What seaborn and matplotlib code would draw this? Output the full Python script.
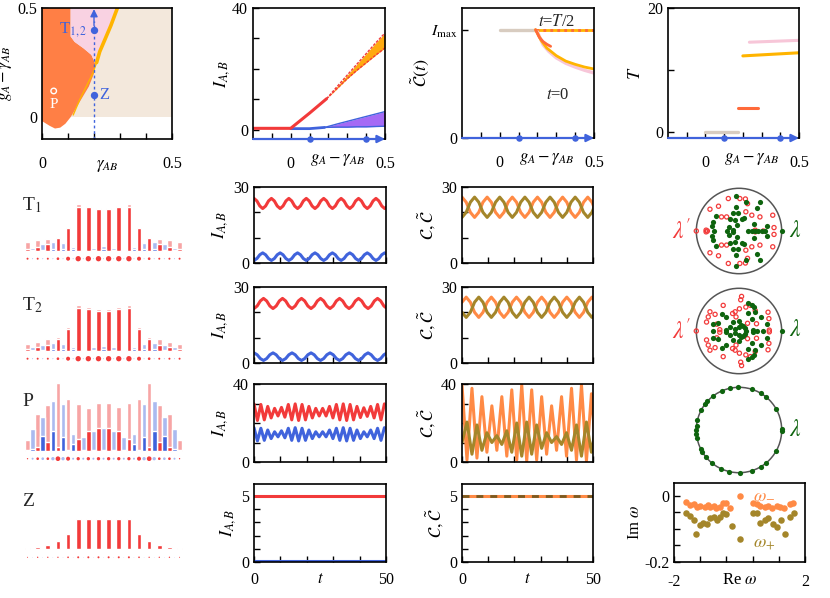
import numpy as np
import matplotlib
matplotlib.use("Agg")
import matplotlib.pyplot as plt
import seaborn as sns
from matplotlib.patches import Circle

# ======================= DATA =======================
# --- phase diagram (gamma_AB , g_A - gamma_AB)
orange_bx = [0.11, 0.11, 0.125, 0.16, 0.19, 0.205, 0.20, 0.18, 0.155, 0.13, 0.11, 0.09, 0.07, 0.05, 0.03, 0.0]
orange_by = [0.5, 0.37, 0.345, 0.315, 0.285, 0.245, 0.20, 0.14, 0.09, 0.04, 0.0, -0.03, -0.048, -0.052, -0.04, -0.018]
yellow_x = [0.29, 0.265, 0.24, 0.222, 0.21, 0.195, 0.17, 0.145, 0.12]
yellow_y = [0.5, 0.42, 0.35, 0.30, 0.25, 0.20, 0.14, 0.08, 0.01]
scan_gamma = 0.2
scan_g = [0.1, 0.4]
point_P = (0.045, 0.12)

# --- top row: intensities vs g_A - gamma_AB
IA_line_x = [-0.2, 0.0, 0.1, 0.19]
IA_line_y = [0.5, 0.5, 5.5, 10.2]
IA_band_x = [0.19, 0.25, 0.30, 0.35, 0.40, 0.45, 0.50]
IA_band_hi = [10.2, 14.5, 18.0, 21.5, 25.0, 28.5, 31.8]
IA_band_lo = [10.2, 13.8, 16.8, 19.5, 22.0, 24.5, 26.9]
IB_line_x = [0.0, 0.1, 0.18]
IB_line_y = [0.4, 0.4, 0.8]
IB_band_x = [0.18, 0.25, 0.30, 0.35, 0.40, 0.45, 0.50]
IB_band_hi = [0.8, 2.0, 2.8, 3.6, 4.4, 5.2, 6.0]
IB_band_lo = [0.8, 0.9, 0.9, 1.0, 1.0, 1.1, 1.2]

# --- top row: C~(t) (in units of I_max)
Cz_flat_x = [0.0, 0.19]
Cz_flat_y = [1.0, 1.0]
Chalf_x = [0.19, 0.5]
Chalf_y = [1.0, 1.0]
Cred_x = [0.19, 0.21, 0.23, 0.25, 0.27]
Cred_y = [1.0, 0.93, 0.89, 0.865, 0.846]
Cyel_x = [0.19, 0.22, 0.25, 0.30, 0.35, 0.40, 0.45, 0.50]
Cyel_y = [1.0, 0.90, 0.83, 0.76, 0.71, 0.68, 0.655, 0.637]
Cpink_x = [0.20, 0.23, 0.26, 0.30, 0.35, 0.40, 0.45, 0.50]
Cpink_y = [0.98, 0.86, 0.80, 0.74, 0.69, 0.655, 0.625, 0.60]

# --- top row: period T
T_beige_x = [0.0, 0.175]
T_beige_y = [0.1, 0.1]
T_red_x = [0.176, 0.279]
T_red_y = [3.9, 3.9]
T_yel_x = [0.20, 0.50]
T_yel_y = [12.3, 12.8]
T_pink_x = [0.235, 0.50]
T_pink_y = [14.5, 14.8]

# --- site-resolved bars (31 sites, A on even sites, B on odd)
T1_max = [27, 8, 33, 20, 34, 27, 40, 22, 70, 10, 141, 2, 135, 8, 129, 13, 129, 8, 135, 2, 141, 10, 70, 22, 40, 27, 34, 20, 33, 8, 27]
T1_min = [5, 2, 12, 2, 20, 5, 37, 5, 69, 6, 132, 1, 130, 3, 124, 4, 124, 3, 130, 1, 132, 6, 69, 5, 37, 5, 20, 2, 12, 2, 5]
T1_dot = [3, 1.5, 3, 1.5, 3, 1.5, 4, 1.5, 6, 1.5, 8, 1.5, 8, 1.5, 8, 1.5, 8, 1.5, 8, 1.5, 8, 1.5, 6, 1.5, 4, 1.5, 3, 1.5, 3, 1.5, 3]
T2_max = [20, 10, 25, 18, 35, 22, 42, 20, 72, 12, 138, 4, 132, 10, 126, 14, 126, 10, 132, 4, 138, 12, 72, 20, 42, 22, 35, 18, 25, 10, 20]
T2_min = [4, 2, 10, 3, 18, 5, 35, 5, 66, 6, 128, 1, 126, 3, 120, 4, 120, 3, 126, 1, 128, 6, 66, 5, 35, 5, 18, 3, 10, 2, 4]
T2_dot = [3, 1.5, 3, 1.5, 3, 1.5, 4, 1.5, 6, 1.5, 8, 1.5, 8, 1.5, 8, 1.5, 8, 1.5, 8, 1.5, 8, 1.5, 6, 1.5, 4, 1.5, 3, 1.5, 3, 1.5, 3]
P_max = [32, 64, 110, 101, 136, 149, 202, 140, 155, 50, 140, 42, 128, 60, 142, 68, 142, 60, 130, 42, 142, 50, 155, 140, 202, 149, 136, 101, 110, 64, 32]
P_min = [2, 4, 10, 44, 27, 59, 12, 41, 2, 20, 35, 2, 59, 2, 68, 2, 68, 2, 59, 2, 35, 20, 2, 41, 12, 59, 27, 44, 10, 4, 2]
P_dot = [2, 3, 4, 4, 4, 5, 7, 5, 6, 3, 5, 3, 5, 3, 5, 3, 5, 3, 5, 3, 5, 3, 6, 5, 7, 5, 4, 4, 4, 3, 2]
Z_max = [4, 1, 7, 1, 12, 1, 25, 1, 46, 1, 92, 1, 92, 1, 92, 1, 92, 1, 92, 1, 92, 1, 46, 1, 25, 1, 12, 1, 7, 1, 4]
Z_min = [4, 1, 7, 1, 12, 1, 25, 1, 46, 1, 92, 1, 92, 1, 92, 1, 92, 1, 92, 1, 92, 1, 46, 1, 25, 1, 12, 1, 7, 1, 4]
Z_dot = [1.5, 0.8, 2, 0.8, 2, 0.8, 2, 0.8, 2.5, 0.8, 3, 0.8, 3, 0.8, 3, 0.8, 3, 0.8, 3, 0.8, 3, 0.8, 2.5, 0.8, 2, 0.8, 2, 0.8, 2, 0.8, 1.5]

# --- time series
T1_dt_I = 1.1
T1_IA = [25.5, 24.5, 22.5, 21.5, 22.5, 24.5, 25.5, 24.5, 22.5, 21.5, 22.5, 24.5, 25.5, 24.5, 22.5, 21.5, 22.5, 24.5,
         25.5, 24.5, 22.5, 21.5, 22.5, 24.5, 25.5, 24.5, 22.5, 21.5, 22.5, 24.5, 25.5, 24.5, 22.5, 21.5, 22.5, 24.5,
         25.5, 24.5, 22.5, 21.5, 22.5, 24.5, 25.5, 24.5, 22.5, 21.5, 22.5]
T1_IB = [1.0, 1.75, 3.25, 4.0, 3.25, 1.75, 1.0, 1.75, 3.25, 4.0, 3.25, 1.75, 1.0, 1.75, 3.25, 4.0, 3.25, 1.75,
         1.0, 1.75, 3.25, 4.0, 3.25, 1.75, 1.0, 1.75, 3.25, 4.0, 3.25, 1.75, 1.0, 1.75, 3.25, 4.0, 3.25, 1.75,
         1.0, 1.75, 3.25, 4.0, 3.25, 1.75, 1.0, 1.75, 3.25, 4.0, 3.25]
T1_dt_C = 1.6
T1_C = [26, 24, 20, 18, 20, 24, 26, 24, 20, 18, 20, 24, 26, 24, 20, 18, 20, 24, 26, 24, 20, 18, 20, 24,
        26, 24, 20, 18, 20, 24, 26, 24, 20]
T1_Ct = [18, 20, 24, 26, 24, 20, 18, 20, 24, 26, 24, 20, 18, 20, 24, 26, 24, 20, 18, 20, 24, 26, 24, 20,
         18, 20, 24, 26, 24, 20, 18, 20, 24]
T2_dt_I = 1.2
T2_IA = [21.5, 22.5, 24.5, 25.5, 24.5, 22.5, 21.5, 22.5, 24.5, 25.5, 24.5, 22.5, 21.5, 22.5, 24.5, 25.5, 24.5, 22.5,
         21.5, 22.5, 24.5, 25.5, 24.5, 22.5, 21.5, 22.5, 24.5, 25.5, 24.5, 22.5, 21.5, 22.5, 24.5, 25.5, 24.5, 22.5,
         21.5, 22.5, 24.5, 25.5, 24.5, 22.5, 21.5]
T2_IB = [4.0, 3.25, 1.75, 1.0, 1.75, 3.25, 4.0, 3.25, 1.75, 1.0, 1.75, 3.25, 4.0, 3.25, 1.75, 1.0, 1.75, 3.25,
         4.0, 3.25, 1.75, 1.0, 1.75, 3.25, 4.0, 3.25, 1.75, 1.0, 1.75, 3.25, 4.0, 3.25, 1.75, 1.0, 1.75, 3.25,
         4.0, 3.25, 1.75, 1.0, 1.75, 3.25, 4.0]
T2_dt_C = 1.6
T2_C = [24, 26, 24, 20, 18, 20, 24, 26, 24, 20, 18, 20, 24, 26, 24, 20, 18, 20, 24, 26, 24, 20, 18, 20,
        24, 26, 24, 20, 18, 20, 24, 26, 24]
T2_Ct = [20, 18, 20, 24, 26, 24, 20, 18, 20, 24, 26, 24, 20, 18, 20, 24, 26, 24, 20, 18, 20, 24, 26, 24,
         20, 18, 20, 24, 26, 24, 20, 18, 20]
P_dt_I = 1.3
P_IA = [29.8, 21.3, 29.5, 21.6, 28.5, 22.6, 27.5, 23.6, 28.0, 23.0, 29.5, 21.6, 29.8, 21.3, 29.5, 21.6, 28.5, 22.6,
        27.5, 23.6, 27.5, 23.6, 28.5, 22.6, 29.5, 21.6, 29.8, 21.3, 29.5, 21.6, 28.5, 22.8, 27.8, 23.4, 28.5, 22.6,
        29.5, 21.6, 29.8]
P_IB = [17.6, 10.8, 17.3, 11.1, 16.4, 12.0, 15.5, 12.9, 16.0, 12.4, 17.3, 11.1, 17.6, 10.8, 17.3, 11.1, 16.4, 12.0,
        15.5, 12.9, 15.5, 12.9, 16.4, 12.0, 17.3, 11.1, 17.6, 10.8, 17.3, 11.1, 16.4, 12.0, 15.5, 12.9, 16.4, 12.0,
        17.3, 11.1, 17.6]
P_dt_C = 1.9
P_C = [39.5, 1, 37.8, 2, 33.5, 5, 28.8, 6, 33.5, 3, 37, 1, 39.5, 0.5, 37, 1, 33.5, 4, 28.8, 6, 33.5, 3, 37.8, 1,
       39.5, 0.5, 35, 2]
P_Ct = [10, 20.5, 4, 19, 6, 15, 10, 13.5, 9, 16, 5, 20, 3, 20.5, 4, 19, 7, 15, 10, 13, 9, 15, 6, 19, 3, 20.5, 5, 19]
Z_t = [0, 50]
Z_IA = [5.0, 5.0]
Z_IB = [0.1, 0.1]
Z_C = [5.0, 5.0]
Z_Ct = [5.0, 5.0]

# --- eigenvalues on unit circle (Re, Im)
T1_lam = [(-0.08, 0.81), (-0.08, -0.81), (0.16, 0.67), (0.16, -0.67), (0.49, 0.68), (0.49, -0.68),
          (0.41, 0.55), (0.41, -0.55), (-0.06, 0.56), (-0.06, -0.56), (-0.13, 0.41), (-0.13, -0.41),
          (-0.02, 0.42), (-0.02, -0.42), (-0.55, 0.35), (-0.55, -0.35), (-0.6, 0.22), (-0.6, -0.22),
          (-0.64, 0.11), (-0.64, -0.11), (-0.58, 0.0), (-0.2, 0.27), (-0.2, -0.27), (-0.09, 0.25),
          (-0.09, -0.25), (0.06, 0.27), (0.06, -0.27), (0.12, 0.3), (0.12, -0.3), (-0.24, 0.09),
          (-0.24, -0.09), (-0.27, 0.0), (-0.13, 0.02), (-0.13, -0.02), (-0.05, 0.13), (-0.05, -0.13),
          (0.22, 0.0), (0.30, 0.0), (0.38, 0.0), (0.45, 0.0), (0.53, 0.0), (0.61, 0.0), (0.66, 0.11),
          (0.66, -0.11), (0.35, 0.17), (0.35, -0.17), (1.0, 0.0)]
T1_lamp = [(-0.25, 0.76), (-0.25, -0.76), (0.02, 0.76), (0.02, -0.76), (0.15, 0.75), (0.15, -0.75),
           (0.2, 0.64), (0.2, -0.64), (-0.48, 0.58), (-0.48, -0.58), (-0.68, 0.51), (-0.68, -0.51),
           (-0.41, 0.33), (-0.41, -0.33), (-0.29, 0.33), (-0.29, -0.33), (0.16, 0.45), (0.16, -0.45),
           (0.3, 0.37), (0.3, -0.37), (0.49, 0.33), (0.49, -0.33), (0.79, 0.37), (0.79, -0.37),
           (0.82, 0.08), (0.82, -0.08), (-1.0, 0.0), (-0.74, 0.0), (-0.77, 0.02), (-0.77, -0.02),
           (0.57, 0.0), (0.38, 0.02), (0.38, -0.02)]
T2_lam = [(0.22, 0.66), (0.22, -0.66), (0.30, 0.60), (0.30, -0.60), (0.35, 0.56), (0.35, -0.56),
          (0.38, 0.45), (0.38, -0.45), (0.51, 0.33), (0.51, -0.33), (0.65, 0.16), (0.65, -0.16),
          (0.57, 0.0), (-0.1, 0.05), (-0.1, -0.05), (0.0, 0.1), (0.0, -0.1), (0.1, 0.12), (0.1, -0.12),
          (0.15, 0.08), (0.15, -0.08), (0.17, 0.0), (0.05, 0.15), (0.05, -0.15), (-0.2, 0.1), (-0.2, -0.1),
          (-0.3, 0.02), (-0.3, -0.02), (-0.5, 0.18), (-0.5, -0.18), (-0.6, 0.17), (-0.6, -0.17),
          (-0.4, 0.39), (-0.4, -0.39), (-0.3, 0.33), (-0.3, -0.33), (-0.13, 0.22), (-0.13, -0.22),
          (0.0, 0.23), (0.0, -0.23), (-0.62, 0.0), (0.22, 0.41), (0.22, -0.41), (0.31, 0.27),
          (0.31, -0.27), (0.33, 0.02), (0.33, -0.02), (0.42, 0.0), (1.0, 0.0)]
T2_lamp = [(0.06, 0.81), (0.06, -0.81), (0.04, 0.73), (0.04, -0.73), (-0.37, 0.6), (-0.37, -0.6),
           (-0.15, 0.41), (-0.15, -0.41), (-0.09, 0.45), (-0.09, -0.45), (0.01, 0.52), (0.01, -0.52),
           (-0.07, 0.33), (-0.07, -0.33), (0.16, 0.56), (0.16, -0.56), (0.27, 0.6), (0.27, -0.6),
           (0.38, 0.48), (0.38, -0.48), (0.68, 0.44), (0.68, -0.44), (0.7, 0.29), (0.7, -0.29),
           (0.41, 0.17), (0.41, -0.17), (0.71, 0.02), (0.71, -0.02), (-0.68, 0.45), (-0.68, -0.45),
           (-0.72, 0.33), (-0.72, -0.33), (-0.56, 0.39), (-0.56, -0.39), (-0.76, 0.21), (-0.76, -0.21),
           (-1.0, 0.0), (-0.52, 0.16), (-0.52, -0.16), (-0.45, 0.03), (-0.45, -0.03), (0.2, 0.18),
           (0.2, -0.18)]
P_lam_angle = [91, 102, 113, 128, 138, 143, 152, 167, 174, 180, 185, 191, 207, 211, 219, 231, 245, 257,
               271, 288, 301, 310, 330, 358, 2, 30, 50, 59, 72]

# --- spectrum for Z
om_minus_re = [-1.64, -1.52, -1.40, -1.30, -1.21, -1.06, -0.96, -0.89, -0.79, -0.71, -0.60, -0.50, -0.42, -0.30,
               0.01, 0.42, 0.52, 0.64, 0.78, 0.88, 0.98, 1.13, 1.23, 1.36, 1.54, 1.64]
om_minus_im = [-0.019, -0.027, -0.024, -0.035, -0.031, -0.035, -0.029, -0.035, -0.031, -0.038, -0.033, -0.022,
               -0.022, -0.038, 0.0, -0.022, -0.024, -0.031, -0.035, -0.031, -0.038, -0.031, -0.035, -0.038,
               -0.024, -0.020]
om_plus_re = [-1.64, -1.52, -1.40, -1.34, -1.21, -1.11, -0.99, -0.91, -0.79, -0.70, -0.60, -0.50, -0.42, -0.24,
              0.01, 0.42, 0.52, 0.64, 0.78, 0.88, 1.01, 1.13, 1.26, 1.39, 1.54, 1.66]
om_plus_im = [-0.051, -0.061, -0.073, -0.116, -0.088, -0.081, -0.085, -0.068, -0.063, -0.073, -0.065, -0.053,
              -0.055, -0.091, -0.130, -0.053, -0.051, -0.083, -0.073, -0.068, -0.085, -0.093, -0.073, -0.114,
              -0.063, -0.051]

# ======================= STYLE =======================
RED = '#F23A3A'
BLUE = '#4063DC'
LRED = '#F7A5A5'
LBLUE = '#AABAF0'
ORANGE_C = '#FF8A45'
OLIVE = '#A4862A'
GREEN = '#0E640E'
PH_ORANGE = '#FF7F45'
PH_PINK = '#F9D2E2'
PH_BEIGE = '#F3E8DC'
YELLOW = '#FFB400'
PURPLE = '#A56AF5'
BAND_OR = '#FFAA10'
GBEIGE = '#D8CCC0'
PINK_L = '#F7C6D8'

sns.set_theme(style='ticks')
plt.rcParams.update({
    'font.family': ['Liberation Serif', 'DejaVu Serif'],
    'mathtext.fontset': 'stix',
    'font.size': 11,
    'axes.edgecolor': 'black',
    'xtick.color': 'black', 'ytick.color': 'black',
    'axes.labelcolor': 'black',
})

W, H = 830, 598
fig = plt.figure(figsize=(W / 100, H / 100), dpi=100)


def add_ax(x0, y0, x1, y1):
    return fig.add_axes([x0 / W, 1 - y1 / H, (x1 - x0) / W, (y1 - y0) / H])


def frame(ax, xpad=3, lsize=11.5):
    for sp in ax.spines.values():
        sp.set_visible(True)
        sp.set_linewidth(1.2)
        sp.set_color('black')
    ax.tick_params(direction='in', length=4, width=1.0, labelsize=lsize, colors='black')
    ax.tick_params(axis='x', pad=xpad)


def line(ax, x, y, color, lw=2.0, **kw):
    sns.lineplot(x=x, y=y, ax=ax, color=color, linewidth=lw, estimator=None, sort=False, legend=False, **kw)


def scan_arrow(ax, x0, x1, y):
    ax.annotate('', xy=(x1, y), xytext=(x0, y),
                arrowprops=dict(arrowstyle='-|>', color=BLUE, lw=1.6, mutation_scale=11, shrinkA=0, shrinkB=0),
                annotation_clip=False, zorder=6)
    sns.scatterplot(x=scan_g, y=[y] * len(scan_g), ax=ax, color=BLUE, s=22, linewidth=0,
                    clip_on=False, zorder=7, legend=False)


# ---------------- top-left: phase diagram ----------------
ax = add_ax(42, 8, 172, 139)
ax.fill([0, 0.5, 0.5, 0], [0, 0, 0.5, 0.5], color=PH_BEIGE, lw=0)
ax.fill([0.0] + orange_bx + [0.0], [0.5] + orange_by + [-0.018], color=PH_ORANGE, lw=0)
ax.fill(orange_bx[:6] + yellow_x[4::-1], orange_by[:6] + yellow_y[4::-1], color=PH_PINK, lw=0)
line(ax, yellow_x[:5], yellow_y[:5], YELLOW, lw=2.6)
line(ax, yellow_x[4:], yellow_y[4:], YELLOW, lw=1.0)
ax.plot([scan_gamma, scan_gamma], [-0.1, 0.44], ls=(0, (2, 2)), color=BLUE, lw=1.0)
ax.annotate('', xy=(scan_gamma, 0.495), xytext=(scan_gamma, 0.42),
            arrowprops=dict(arrowstyle='-|>', color=BLUE, lw=1.0, mutation_scale=11, shrinkA=0, shrinkB=0))
sns.scatterplot(x=[scan_gamma] * len(scan_g), y=[0.4, 0.1], ax=ax, color=BLUE, s=28, linewidth=0, legend=False, zorder=5)
sns.scatterplot(x=[point_P[0]], y=[point_P[1]], ax=ax, color='none', edgecolor='white', s=16, linewidth=1.0,
                legend=False, zorder=5)
ax.text(0.175, 0.4, r'T$_{1,2}$', color=BLUE, ha='right', va='center', fontsize=12)
ax.text(0.222, 0.1, 'Z', color=BLUE, ha='left', va='center', fontsize=12)
ax.text(point_P[0], 0.06, 'P', color='white', ha='center', va='center', fontsize=11)
ax.set_xlim(0, 0.5)
ax.set_ylim(-0.1, 0.5)
frame(ax, xpad=12)
ax.set_xticks([0, 0.1, 0.2, 0.3, 0.4, 0.5], ['0', '', '', '', '', '0.5'])
ax.set_yticks([0, 0.5], ['0', '0.5'])
ax.set_xlabel(r'$\gamma_{AB}$', fontsize=12, labelpad=-10)
ax.set_ylabel(r'$g_A-\gamma_{AB}$', fontsize=12, labelpad=2)

# ---------------- top: I_{A,B} ----------------
ax = add_ax(253, 8, 385, 139)
ax.fill_between(IB_band_x, IB_band_lo, IB_band_hi, color=PURPLE, lw=0)
line(ax, IB_band_x, IB_band_hi, BLUE, lw=1.0)
line(ax, IB_band_x, IB_band_lo, BLUE, lw=1.0)
line(ax, IB_line_x, IB_line_y, BLUE, lw=2.0)
ax.fill_between(IA_band_x, IA_band_lo, IA_band_hi, color=BAND_OR, lw=0)
line(ax, IA_band_x, IA_band_hi, RED, lw=1.0, linestyle=(0, (2, 1)))
line(ax, IA_band_x, IA_band_lo, RED, lw=1.0, linestyle=(0, (2, 1)))
line(ax, IA_line_x, IA_line_y, RED, lw=2.2)
ax.set_xlim(-0.2, 0.5)
ax.set_ylim(-3, 40)
frame(ax, xpad=12)
scan_arrow(ax, -0.2, 0.5, -3)
ax.set_xticks([-0.1, 0, 0.1, 0.2, 0.3, 0.4, 0.5], ['', '0', '', '', '', '', '0.5'])
ax.set_yticks([0, 10, 20, 30, 40], ['0', '', '', '', '40'])
ax.set_xlabel(r'$g_A-\gamma_{AB}$', fontsize=12)
ax.xaxis.set_label_coords(0.64, -0.1)
ax.set_ylabel(r'$I_{A,B}$', fontsize=13, labelpad=0)

# ---------------- top: C~(t) ----------------
ax = add_ax(462, 8, 594, 138)
line(ax, Cz_flat_x, Cz_flat_y, GBEIGE, lw=2.4)
line(ax, Chalf_x, Chalf_y, YELLOW, lw=2.0)
line(ax, Chalf_x, Chalf_y, '#FF6A3A', lw=2.0, linestyle=(0, (1, 1.5)))
line(ax, Cpink_x, Cpink_y, PINK_L, lw=2.4)
line(ax, Cyel_x, Cyel_y, YELLOW, lw=2.0)
line(ax, Cred_x, Cred_y, '#FF6A3A', lw=2.0)
ax.text(0.30, 1.075, r'$t$=$T$/2', fontsize=12, ha='center', va='center')
ax.text(0.31, 0.40, r'$t$=0', fontsize=12, ha='center', va='center')
ax.set_xlim(-0.2, 0.5)
ax.set_ylim(0, 1.2)
frame(ax, xpad=12)
scan_arrow(ax, -0.2, 0.5, 0)
ax.set_xticks([-0.1, 0, 0.1, 0.2, 0.3, 0.4, 0.5], ['', '0', '', '', '', '', '0.5'])
ax.set_yticks([0, 1], ['0', r'$I_{\rm max}$'])
ax.set_xlabel(r'$g_A-\gamma_{AB}$', fontsize=12)
ax.xaxis.set_label_coords(0.64, -0.1)
ax.set_ylabel(r'$\tilde{\mathcal{C}}(t)$', fontsize=13, labelpad=0)

# ---------------- top: T ----------------
ax = add_ax(668, 8, 799, 138)
line(ax, T_beige_x, T_beige_y, GBEIGE, lw=2.4)
line(ax, T_red_x, T_red_y, '#FF6A3A', lw=2.2)
line(ax, T_yel_x, T_yel_y, YELLOW, lw=2.2)
line(ax, T_pink_x, T_pink_y, PINK_L, lw=2.2)
ax.set_xlim(-0.2, 0.5)
ax.set_ylim(-0.9, 20)
frame(ax, xpad=12)
scan_arrow(ax, -0.2, 0.5, -0.9)
ax.set_xticks([-0.1, 0, 0.1, 0.2, 0.3, 0.4, 0.5], ['', '0', '', '', '', '', '0.5'])
ax.set_yticks([0, 10, 20], ['0', '', '20'])
ax.set_xlabel(r'$g_A-\gamma_{AB}$', fontsize=12)
ax.xaxis.set_label_coords(0.64, -0.1)
ax.set_ylabel(r'$T$', fontsize=13, labelpad=2)


# ---------------- site-resolved bars ----------------
def bar_panel(y_top, y_base, y_bot, hmax, hmin, dots, label, label_xy, dot_off=8):
    ax = add_ax(17.4, y_top, 189.7, y_bot)
    sites = np.arange(len(hmax))
    a, b = sites[0::2], sites[1::2]
    hmax = np.asarray(hmax, float)
    hmin = np.asarray(hmin, float)
    dots = np.asarray(dots, float)
    bw = 0.46
    sns.barplot(x=a, y=hmax[0::2], native_scale=True, width=bw, color=LRED, saturation=1,
                errorbar=None, ax=ax)
    sns.barplot(x=b, y=hmax[1::2], native_scale=True, width=bw, color=LBLUE, saturation=1,
                errorbar=None, ax=ax)
    sns.barplot(x=a, y=hmin[0::2], native_scale=True, width=bw, color=RED, saturation=1,
                errorbar=None, ax=ax)
    sns.barplot(x=b, y=hmin[1::2], native_scale=True, width=bw, color=BLUE, saturation=1,
                errorbar=None, ax=ax)
    dy = -dot_off * 3
    # dot radius (zoomed px, 3x) -> marker area (pt^2)
    sns.scatterplot(x=b, y=[dy] * len(b), s=(dots[1::2] * 2 / 3 / 1.389) ** 2, color=LBLUE, linewidth=0,
                    ax=ax, legend=False)
    sns.scatterplot(x=a, y=[dy] * len(a), s=(dots[0::2] * 2 / 3 / 1.389) ** 2, color=RED, linewidth=0,
                    ax=ax, legend=False)
    ax.set_xlim(-2, 32)
    ax.set_ylim(-(y_bot - y_base) * 3, (y_base - y_top) * 3)
    ax.axis('off')
    fig.text(label_xy[0] / W, 1 - label_xy[1] / H, label, fontsize=14, ha='left', va='center')


bar_panel(190, 250.7, 266, T1_max, T1_min, T1_dot, r'T$_1$', (22, 205))
bar_panel(290, 350.7, 366, T2_max, T2_min, T2_dot, r'T$_2$', (22, 305))
bar_panel(378, 450.7, 468, P_max, P_min, P_dot, 'P', (22, 402))
bar_panel(490, 549.3, 566, Z_max, Z_min, Z_dot, 'Z', (22, 502))

# ---------------- time series ----------------
rows = [
    (187, 263, 30, [0, 10, 20, 30], ['0', '', '', '30']),
    (287, 363, 30, [0, 10, 20, 30], ['0', '', '', '30']),
    (384, 462, 40, [0, 10, 20, 30, 40], ['0', '', '', '', '40']),
    (484, 562, 5.9, [0, 1, 2, 3, 4, 5], ['0', '', '', '', '', '5']),
]
series_I = [(T1_dt_I, T1_IA, T1_IB), (T2_dt_I, T2_IA, T2_IB), (P_dt_I, P_IA, P_IB), (None, Z_IA, Z_IB)]
series_C = [(T1_dt_C, T1_C, T1_Ct), (T2_dt_C, T2_C, T2_Ct), (P_dt_C, P_C, P_Ct), (None, Z_C, Z_Ct)]

for i, (y0, y1, ymax, yt, ytl) in enumerate(rows):
    last = i == len(rows) - 1
    ax = add_ax(254, y0, 386, y1)
    dt, ya, yb = series_I[i]
    tt = Z_t if dt is None else np.arange(len(ya)) * dt
    line(ax, tt, yb, BLUE, lw=2.2)
    line(ax, tt, ya, RED, lw=2.2)
    ax.set_xlim(0, 50)
    ax.set_ylim(0, ymax)
    frame(ax, xpad=7)
    ax.set_xticks([0, 10, 20, 30, 40, 50], ['0', '', '', '', '', '50'] if last else [''] * 6)
    ax.set_yticks(yt, ytl)
    ax.set_ylabel(r'$I_{A,B}$', fontsize=13, labelpad=2)
    if last:
        ax.set_xlabel(r'$t$', fontsize=12)
        ax.xaxis.set_label_coords(0.5, -0.12)
    ax = add_ax(462, y0, 593, y1)
    dt, yc, yct = series_C[i]
    tt = Z_t if dt is None else np.arange(len(yc)) * dt
    line(ax, tt, yc, ORANGE_C, lw=2.2)
    if last:
        line(ax, tt, yct, '#7A5A20', lw=2.0, linestyle=(0, (2.5, 2.5)))
    else:
        line(ax, tt, yct, OLIVE, lw=2.2)
    ax.set_xlim(0, 50)
    ax.set_ylim(0, ymax)
    frame(ax, xpad=7)
    ax.set_xticks([0, 10, 20, 30, 40, 50], ['0', '', '', '', '', '50'] if last else [''] * 6)
    ax.set_yticks(yt, ytl)
    ax.set_ylabel(r'$\mathcal{C},\tilde{\mathcal{C}}$', fontsize=13, labelpad=2)
    if last:
        ax.set_xlabel(r'$t$', fontsize=12)
        ax.xaxis.set_label_coords(0.5, -0.12)


# ---------------- eigenvalue circles ----------------
def circle_panel(cy, greens, reds):
    half = 50
    ax = add_ax(739 - half, cy - half, 739 + half, cy + half)
    ax.add_patch(Circle((0, 0), 1.0, fill=False, ec='#555555', lw=1.1))
    if reds is not None:
        rx = [p[0] for p in reds]
        ry = [p[1] for p in reds]
        sns.scatterplot(x=rx, y=ry, ax=ax, color='none', edgecolor=RED, s=9, linewidth=0.9, legend=False)
    gx = [p[0] for p in greens]
    gy = [p[1] for p in greens]
    sns.scatterplot(x=gx, y=gy, ax=ax, color=GREEN, s=14, linewidth=0, legend=False)
    lim = half / 42.7
    ax.set_xlim(-lim, lim)
    ax.set_ylim(-lim, lim)
    ax.axis('off')
    if reds is not None:
        fig.text(682 / W, 1 - cy / H, r"$\lambda^{\prime}$", color=RED, fontsize=17, ha='center', va='center')
    fig.text(795 / W, 1 - cy / H, r'$\lambda$', color=GREEN, fontsize=17, ha='center', va='center')


circle_panel(231, T1_lam, T1_lamp)
circle_panel(331, T2_lam, T2_lamp)
P_lam = [(np.cos(np.deg2rad(a)), np.sin(np.deg2rad(a))) for a in P_lam_angle]
circle_panel(430, P_lam, None)

# ---------------- spectrum omega ----------------
ax = add_ax(674, 483, 805, 562)
sns.scatterplot(x=om_minus_re, y=om_minus_im, ax=ax, color=ORANGE_C, s=22, linewidth=0, legend=False)
sns.scatterplot(x=om_plus_re, y=om_plus_im, ax=ax, color=OLIVE, s=22, linewidth=0, legend=False)
ax.text(0.42, 0.003, r'$\omega_{-}$', color=ORANGE_C, fontsize=13, ha='left', va='center')
ax.text(0.42, -0.145, r'$\omega_{+}$', color=OLIVE, fontsize=13, ha='left', va='center')
ax.set_xlim(-2, 2)
ax.set_ylim(-0.2, 0.039)
frame(ax, xpad=9)
ax.set_xticks([-2, -1.2, -0.4, 0.4, 1.2, 2], ['-2', '', '', '', '', '2'])
ax.set_yticks([-0.2, -0.15, -0.1, -0.05, 0], ['-0.2', '', '', '', '0'])
ax.set_xlabel(r'Re $\omega$', fontsize=12)
ax.xaxis.set_label_coords(0.5, -0.13)
ax.set_ylabel(r'Im $\omega$', fontsize=12, labelpad=1)

fig.savefig('out.png', dpi=100)
